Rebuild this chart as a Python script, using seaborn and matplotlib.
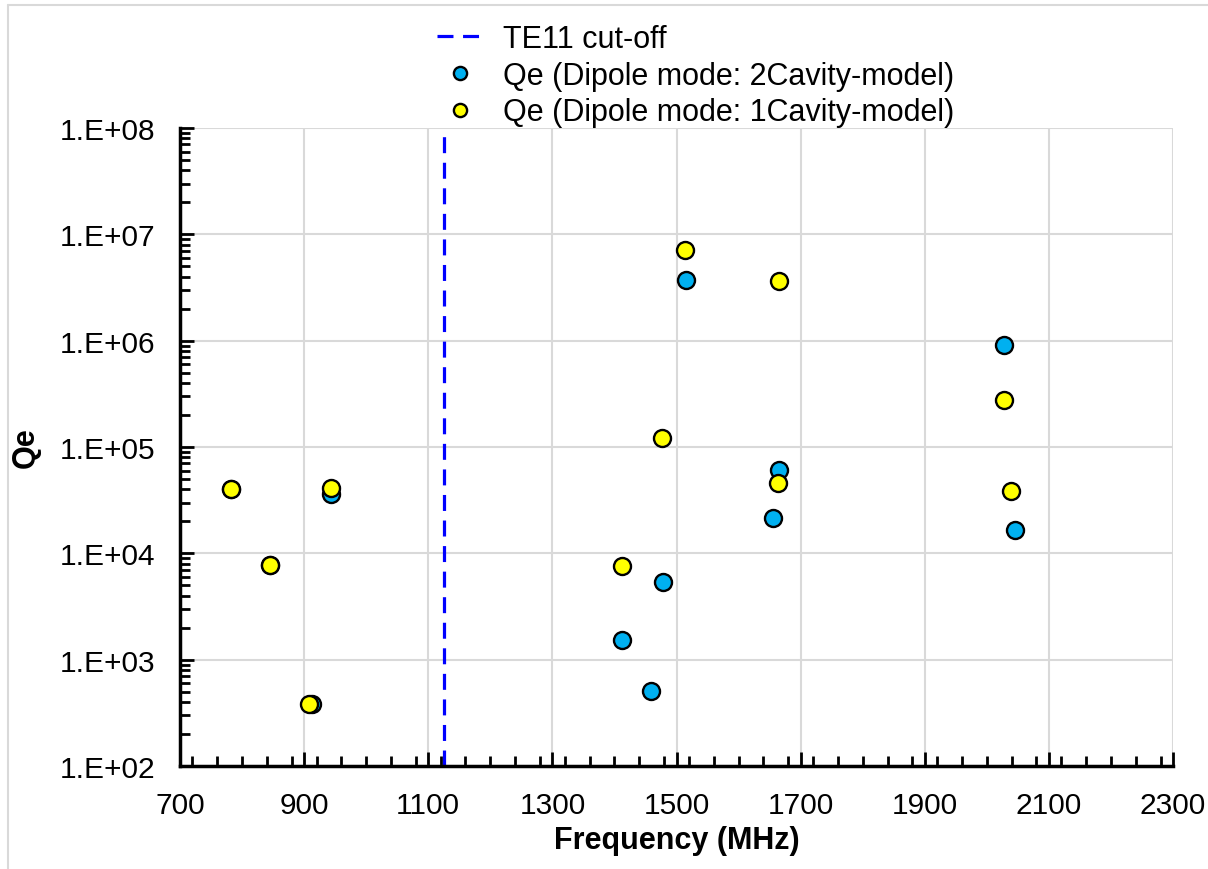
import numpy as np
import pandas as pd
import matplotlib
matplotlib.use("Agg")
import matplotlib.pyplot as plt
import matplotlib.ticker as mticker
from matplotlib.lines import Line2D
import seaborn as sns

# ---- data ----
freq_2cav = [782, 845, 913, 943, 1412, 1459, 1478, 1516, 1656, 1665, 2027, 2046]
qe_2cav = [40000, 7800, 380, 36000, 1540, 507, 5390, 3.72e6, 2.17e4, 6.1e4, 9.06e5, 1.66e4]
freq_1cav = [782, 845, 908, 943, 1412, 1476, 1513, 1663, 1665, 2027, 2039]
qe_1cav = [40000, 7800, 383, 41600, 7640, 1.21e5, 7.1e6, 4.54e4, 3.64e6, 2.77e5, 3.87e4]
te11_cutoff = 1125
x_ticks = [700, 900, 1100, 1300, 1500, 1700, 1900, 2100, 2300]
label_2cav = "Qe (Dipole mode: 2Cavity-model)"
label_1cav = "Qe (Dipole mode: 1Cavity-model)"
label_cut = "TE11 cut-off"

sns.set_theme(style="white")
plt.rcParams['font.family'] = ['Liberation Sans', 'DejaVu Sans']
plt.rcParams['text.color'] = 'black'
plt.rcParams['axes.labelcolor'] = 'black'
plt.rcParams['xtick.color'] = 'black'
plt.rcParams['ytick.color'] = 'black'

fig = plt.figure(figsize=(12.08, 8.70), dpi=100)
ax = fig.add_axes([180/1208, 1-767/870, (1173-180)/1208, (767-129)/870])

df2 = pd.DataFrame({"f": freq_2cav, "q": qe_2cav})
df1 = pd.DataFrame({"f": freq_1cav, "q": qe_1cav})

ax.set_yscale("log")
ax.set_xlim(700, 2300)
ax.set_ylim(1e2, 1e8)

ax.grid(True, which="major", color="#D9D9D9", linewidth=1.5, zorder=0)
ax.set_axisbelow(True)

ax.axvline(te11_cutoff, color="#0000FF", linewidth=2.3, linestyle=(0, (5, 3)), zorder=2)
sns.scatterplot(data=df2, x="f", y="q", ax=ax, color="#00B0F0", edgecolor="black",
                linewidth=1.7, s=150, zorder=3, legend=False)
sns.scatterplot(data=df1, x="f", y="q", ax=ax, color="#FFFF00", edgecolor="black",
                linewidth=1.7, s=150, zorder=4, legend=False)

ax.set_xticks(x_ticks)
ax.xaxis.set_minor_locator(mticker.MultipleLocator(40))
ax.yaxis.set_major_locator(mticker.LogLocator(base=10, numticks=10))
ax.yaxis.set_minor_locator(mticker.LogLocator(base=10, subs=np.arange(2, 10), numticks=20))
ax.yaxis.set_minor_formatter(mticker.NullFormatter())
ax.yaxis.set_major_formatter(mticker.FuncFormatter(lambda v, p: "1.E+%02d" % int(round(np.log10(v)))))

ax.tick_params(axis="both", which="major", direction="in", length=10, width=2,
               color="black", labelsize=21.5, pad=18, labelcolor="black")
ax.tick_params(axis="both", which="minor", direction="in", length=7, width=2, color="black")
ax.tick_params(axis="x", which="both", bottom=True, top=False)
ax.tick_params(axis="y", which="both", left=True, right=False)

for s in ["top", "right"]:
    ax.spines[s].set_visible(False)
for s in ["left", "bottom"]:
    ax.spines[s].set_color("black")
    ax.spines[s].set_linewidth(2.5)

ax.set_xlabel("Frequency (MHz)", fontsize=22, fontweight="bold", color="black")
ax.set_ylabel("Qe", fontsize=22, fontweight="bold", color="black")
ax.xaxis.set_label_coords(0.5, (767-826)/638)
ax.xaxis.label.set_va("top")
ax.yaxis.set_label_coords((26-180)/993, 0.5)
ax.yaxis.label.set_va("center")

handles = [Line2D([0], [0], color="#0000FF", linewidth=2.3, linestyle=(0, (5, 3))),
           Line2D([0], [0], marker="o", linestyle="none", markerfacecolor="#00B0F0",
                  markeredgecolor="black", markeredgewidth=1.7, markersize=9.5),
           Line2D([0], [0], marker="o", linestyle="none", markerfacecolor="#FFFF00",
                  markeredgecolor="black", markeredgewidth=1.7, markersize=9.5)]
leg = fig.legend(handles, [label_cut, label_2cav, label_1cav], loc="upper left",
                 bbox_to_anchor=(437/1208, 1-25/870), frameon=False, fontsize=22,
                 handlelength=1.5, handletextpad=0.65, labelspacing=0.22,
                 borderpad=0, borderaxespad=0)
for t in leg.get_texts():
    t.set_color("black")

# outer chart border (left and top visible)
fig.add_artist(Line2D([8/1208, 8/1208], [0, 1-6/870], transform=fig.transFigure,
                      color="#D9D9D9", linewidth=1.5))
fig.add_artist(Line2D([8/1208, 1], [1-6/870, 1-6/870], transform=fig.transFigure,
                      color="#D9D9D9", linewidth=1.5))

fig.savefig("out.png", dpi=100)
